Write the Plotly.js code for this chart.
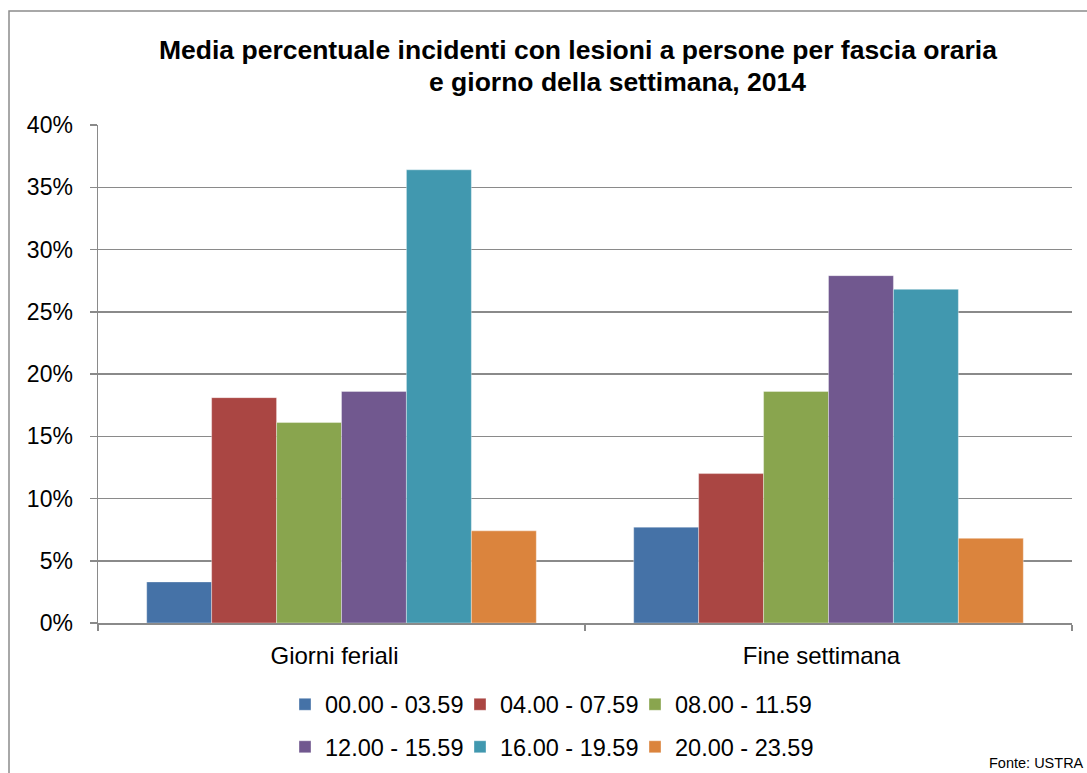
<!DOCTYPE html>
<html>
<head>
<meta charset="utf-8">
<script src="https://cdn.plot.ly/plotly-3.0.1.min.js"></script>
<style>
  html, body { margin: 0; padding: 0; background: #ffffff; }
  #chart { width: 1087px; height: 773px; }
</style>
</head>
<body>
<div id="chart"></div>
<script>
// Day groups on the category axis
const categories = ['Giorni feriali', 'Fine settimana'];

// Time bands (legend labels)
const bandNames = ['00.00 - 03.59', '04.00 - 07.59', '08.00 - 11.59',
                   '12.00 - 15.59', '16.00 - 19.59', '20.00 - 23.59'];

// Share of injury accidents per band, in percent: [weekdays, weekend]
const band0003 = [3.3, 7.7];
const band0407 = [18.1, 12.0];
const band0811 = [16.1, 18.6];
const band1215 = [18.6, 27.9];
const band1619 = [36.4, 26.8];
const band2023 = [7.4, 6.8];

// Y axis ticks
const yTickVals = [0, 5, 10, 15, 20, 25, 30, 35, 40];

const bandValues = [band0003, band0407, band0811, band1215, band1619, band2023];
const bandColors = ['#4572A7', '#AA4643', '#89A54E', '#71588F', '#4198AF', '#DB843D'];

const FONT = 'Liberation Sans, Arial, Helvetica, sans-serif';

const traces = bandNames.map((name, i) => ({
  type: 'bar',
  name: name,
  x: categories,
  y: bandValues[i],
  marker: { color: bandColors[i], line: { color: 'rgba(255,255,255,0.45)', width: 0.8 } },
  legend: i < 3 ? 'legend' : 'legend2',
  // the last entry of each legend row gets room for its full label
  legendwidth: (i % 3 === 2) ? 150 : undefined,
  hoverinfo: 'x+y+name'
}));

// Plot area in pixels, used to place paper-referenced items
const W = 1087, H = 773;
const M = { l: 98, r: 15, t: 125, b: 150 };
const PW = W - M.l - M.r, PH = H - M.t - M.b;
const px = v => (v - M.l) / PW;
const py = v => (H - M.b - v) / PH;
const cx = v => v / W;
const cy = v => 1 - v / H;

const legendCommon = {
  orientation: 'h',
  xref: 'container',
  yref: 'container',
  xanchor: 'left',
  yanchor: 'middle',
  entrywidth: 130,
  entrywidthmode: 'pixels',
  font: { family: FONT, size: 23.5, color: '#000000' },
  bgcolor: 'rgba(0,0,0,0)',
  borderwidth: 0,
  traceorder: 'normal'
};

const titleFont = { family: FONT, size: 26.5, color: '#000000' };

const layout = {
  width: W,
  height: H,
  margin: Object.assign({ autoexpand: false }, M),
  paper_bgcolor: '#ffffff',
  plot_bgcolor: '#ffffff',
  font: { family: FONT, color: '#000000' },
  title: {
    text: '<b>Media percentuale incidenti con lesioni a persone per fascia oraria</b>',
    font: titleFont,
    xref: 'container', yref: 'container',
    x: cx(578), xanchor: 'center',
    y: cy(49.5), yanchor: 'middle'
  },
  annotations: [
    {
      text: '<b>e giorno della settimana, 2014</b>',
      xref: 'paper', yref: 'paper',
      x: px(617.5), y: py(82), xanchor: 'center', yanchor: 'middle',
      showarrow: false,
      font: titleFont
    },
    {
      text: 'Fonte: USTRA',
      xref: 'paper', yref: 'paper',
      x: px(1086), y: py(763), xanchor: 'right', yanchor: 'middle',
      showarrow: false,
      font: { family: FONT, size: 14.5, color: '#000000' }
    }
  ],
  shapes: [
    {
      type: 'rect', xref: 'paper', yref: 'paper', layer: 'below',
      x0: px(9), x1: px(1095), y0: py(11), y1: py(790),
      line: { color: '#8c8c8c', width: 1.5 },
      fillcolor: 'rgba(0,0,0,0)'
    }
  ],
  barmode: 'group',
  bargap: 0.2,
  bargroupgap: 0,
  xaxis: {
    type: 'category',
    automargin: false,
    tickson: 'boundaries',
    ticks: 'outside',
    ticklen: 6,
    tickwidth: 1.5,
    tickcolor: '#8a8a8a',
    showline: true,
    linecolor: '#8a8a8a',
    linewidth: 1.5,
    showgrid: false,
    tickfont: { family: FONT, size: 24, color: '#000000' },
    ticklabelstandoff: 11,
    ticklabelshift: -7,
    fixedrange: true
  },
  yaxis: {
    range: [0, 40],
    automargin: false,
    tickvals: yTickVals,
    ticktext: yTickVals.map(v => v + '%'),
    ticks: 'outside',
    ticklen: 7,
    tickwidth: 1.5,
    tickcolor: '#8a8a8a',
    showline: true,
    linecolor: '#8a8a8a',
    linewidth: 1.5,
    showgrid: true,
    gridcolor: '#8a8a8a',
    gridwidth: 1.5,
    zeroline: false,
    tickfont: { family: FONT, size: 23, color: '#000000' },
    ticklabelstandoff: 12,
    fixedrange: true
  },
  legend: Object.assign({}, legendCommon, { x: cx(285), y: cy(704.5) }),
  legend2: Object.assign({}, legendCommon, { x: cx(285), y: cy(747) }),
  showlegend: true
};

Plotly.newPlot('chart', traces, layout, { displayModeBar: false, staticPlot: true });
</script>
</body>
</html>
